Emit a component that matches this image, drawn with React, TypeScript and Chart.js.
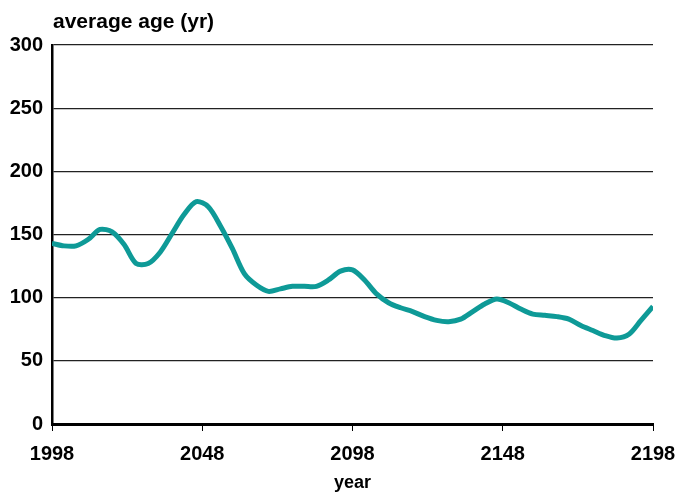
import React, { useEffect, useRef } from "react";
import { Chart, registerables } from "chart.js";

Chart.register(...registerables);

const years = [
  1998, 2002, 2006, 2010, 2014, 2018, 2022, 2026, 2030, 2034, 2038, 2042, 2046,
  2050, 2054, 2058, 2062, 2066, 2070, 2074, 2078, 2082, 2086, 2090, 2094, 2098,
  2102, 2106, 2110, 2114, 2118, 2122, 2126, 2130, 2134, 2138, 2142, 2146, 2150,
  2154, 2158, 2162, 2166, 2170, 2174, 2178, 2182, 2186, 2190, 2194, 2198,
];
const averageAge = [
  143, 141, 141, 146, 154, 152, 142, 127, 127, 136, 151, 166, 176,
  172, 157, 139, 119, 110, 105, 107, 109, 109, 109, 114, 121, 122,
  114, 103, 96, 92, 89, 85, 82, 81, 83, 89, 95, 99, 96,
  91, 87, 86, 85, 83, 78, 74, 70, 68, 71, 82, 93,
];
const yTitle = "average age (yr)";
const xTitle = "year";

const FONT = "'Liberation Sans', Arial, sans-serif";

export default function App() {
  const ref = useRef<HTMLCanvasElement | null>(null);
  useEffect(() => {
    if (!ref.current) return;
    const titlePlugin = {
      id: "yTitleTop",
      afterDraw(chart: any) {
        const { ctx, chartArea } = chart;
        ctx.save();
        ctx.font = `bold 21px ${FONT}`;
        ctx.fillStyle = "#000";
        ctx.textAlign = "left";
        ctx.textBaseline = "alphabetic";
        ctx.fillText(yTitle, chartArea.left + 1, 28);
        ctx.restore();
      },
    };
    const chart = new Chart(ref.current, {
      type: "line",
      data: {
        datasets: [
          {
            data: years.map((y, i) => ({ x: y, y: averageAge[i] })),
            borderColor: "#0e9a97",
            borderWidth: 5,
            pointRadius: 0,
            tension: 0.3,
            fill: false,
          },
        ],
      },
      options: {
        responsive: false,
        animation: false,
        layout: { padding: { top: 45, right: 25, left: 0, bottom: 0 } },
        plugins: { legend: { display: false }, tooltip: { enabled: false } },
        scales: {
          x: {
            type: "linear",
            min: 1998,
            max: 2198,
            afterFit: (s: any) => {
              s.height = 70;
              s.paddingLeft = 0;
              s.paddingRight = 0;
            },
            ticks: {
              stepSize: 50,
              color: "#000",
              font: { family: FONT, size: 20, weight: "bold" },
              padding: 11,
              maxRotation: 0,
              callback: (v: any) => String(v),
            },
            grid: {
              drawOnChartArea: false,
              drawTicks: true,
              tickLength: 7,
              color: "#000",
              lineWidth: 1,
            },
            border: { color: "#000", width: 3 },
            title: {
              display: true,
              text: xTitle,
              color: "#000",
              font: { family: FONT, size: 18, weight: "bold" },
              padding: { top: 2, bottom: 0 },
            },
          },
          y: {
            min: 0,
            max: 300,
            afterFit: (s: any) => {
              s.width = 52;
              s.paddingTop = 0;
              s.paddingBottom = 0;
            },
            ticks: {
              stepSize: 50,
              color: "#000",
              font: { family: FONT, size: 20, weight: "bold" },
              padding: 9,
            },
            grid: { color: "#222", lineWidth: 1.2, drawTicks: false },
            border: { color: "#000", width: 2.5 },
          },
        },
      },
      plugins: [titlePlugin],
    });
    return () => chart.destroy();
  }, []);
  return (
    <div style={{ position: "fixed", left: 0, top: 0, width: 678, height: 494, background: "#fff" }}>
      <canvas ref={ref} width={678} height={494} />
    </div>
  );
}
